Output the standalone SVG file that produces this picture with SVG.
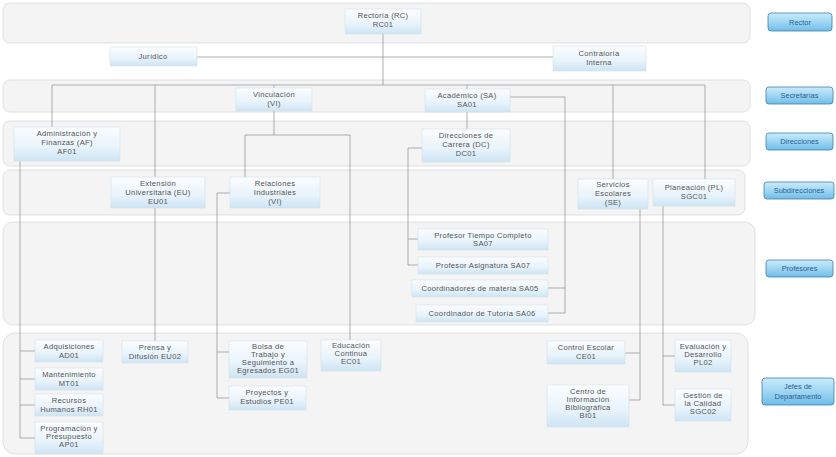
<svg xmlns="http://www.w3.org/2000/svg" width="836" height="457" viewBox="0 0 836 457">
<defs>
<linearGradient id="nodeG" x1="0" y1="0" x2="0" y2="1">
<stop offset="0" stop-color="#fbfdff"/>
<stop offset="0.6" stop-color="#e8f3fb"/>
<stop offset="1" stop-color="#cde4f4"/>
</linearGradient>
<linearGradient id="labG" x1="0" y1="0" x2="0" y2="1">
<stop offset="0" stop-color="#c9ecfb"/>
<stop offset="0.5" stop-color="#9fd6f3"/>
<stop offset="1" stop-color="#6fbde8"/>
</linearGradient>
<style>
.band{fill:#f4f4f4;stroke:#d9d9d9;stroke-width:0.8}
.node rect{fill:url(#nodeG);stroke:#d3e0ea;stroke-width:0.6}
.node text{font-family:"Liberation Sans",Arial,sans-serif;font-size:7.6px;fill:#555;text-anchor:middle;letter-spacing:0.3px}
.lab rect{fill:url(#labG);stroke:#3f7fae;stroke-width:0.8}
.lab text{font-family:"Liberation Sans",Arial,sans-serif;font-size:7.4px;fill:#2b5d96;text-anchor:middle}
.conn path{fill:none;stroke:#8c8c8c;stroke-width:0.7}
</style>
</defs>
<rect width="836" height="457" fill="#ffffff"/>
<g id="bands">
<rect class="band" x="3" y="3" width="747" height="40" rx="7"/>
<rect class="band" x="3" y="80" width="747" height="32" rx="7"/>
<rect class="band" x="3" y="121" width="747" height="45" rx="7"/>
<rect class="band" x="3" y="170" width="742" height="45" rx="7"/>
<rect class="band" x="3" y="222" width="752" height="103" rx="10"/>
<rect class="band" x="3" y="333" width="745" height="121" rx="12"/>
</g>
<g id="connectors" class="conn">
<path d="M383,34 V85"/>
<path d="M197,57 H553"/>
<path d="M52,85 H705"/>
<path d="M52,85 V127"/>
<path d="M155,85 V177 M155,208 V341"/>
<path d="M274,85 V88 M467,85 V89"/>
<path d="M613,85 V179 M705,85 V179"/>
<path d="M274,111 V135 M245,135 H350 M245,135 V177 M350,135 V340"/>
<path d="M467,112 V129"/>
<path d="M510,97 H565 V313 H548 M565,288 H548"/>
<path d="M422,148 H408 V265 H418 M408,239 H418"/>
<path d="M20,161 V438 H35 M20,351 H35 M20,379 H35 M20,405 H35"/>
<path d="M230,193 H217 V398 H229 M217,352 H229"/>
<path d="M640,209 V400 H629 M640,353 H625"/>
<path d="M663,206 V405 H675 M663,356 H675"/>
</g>
<g id="rc" class="node"><rect x="345" y="9" width="76" height="25"/><text x="383" y="18">Rectoría (RC)</text><text x="383" y="27">RC01</text></g>
<g id="ju" class="node"><rect x="110" y="47" width="87" height="19"/><text x="153" y="58.5">Jurídico</text></g>
<g id="ci" class="node"><rect x="553" y="46" width="93" height="25"/><text x="599" y="56">Contraloría</text><text x="599" y="65">Interna</text></g>
<g id="vi" class="node"><rect x="236" y="88" width="76" height="23"/><text x="274" y="97">Vinculación</text><text x="274" y="106">(VI)</text></g>
<g id="sa" class="node"><rect x="425" y="89" width="85" height="23"/><text x="467" y="98">Académico (SA)</text><text x="467" y="107">SA01</text></g>
<g id="af" class="node"><rect x="14" y="127" width="106" height="34"/><text x="67" y="136">Administración y</text><text x="67" y="145">Finanzas (AF)</text><text x="67" y="154">AF01</text></g>
<g id="dc" class="node"><rect x="422" y="129" width="88" height="33"/><text x="466" y="138">Direcciones de</text><text x="466" y="147">Carrera (DC)</text><text x="466" y="156">DC01</text></g>
<g id="eu" class="node"><rect x="111" y="177" width="94" height="31"/><text x="158" y="186">Extensión</text><text x="158" y="195">Universitaria (EU)</text><text x="158" y="204">EU01</text></g>
<g id="ri" class="node"><rect x="230" y="177" width="90" height="31"/><text x="275" y="186">Relaciones</text><text x="275" y="195">Industriales</text><text x="275" y="204">(VI)</text></g>
<g id="se" class="node"><rect x="578" y="179" width="70" height="30"/><text x="613" y="187">Servicios</text><text x="613" y="196">Escolares</text><text x="613" y="205">(SE)</text></g>
<g id="pl" class="node"><rect x="653" y="179" width="82" height="27"/><text x="694" y="190">Planeación (PL)</text><text x="694" y="199">SGC01</text></g>
<g id="ptc" class="node"><rect x="418" y="229" width="130" height="21"/><text x="483" y="237.5">Profesor Tiempo Completo</text><text x="483" y="246">SA07</text></g>
<g id="pa" class="node"><rect x="418" y="257" width="130" height="17"/><text x="483" y="268">Profesor Asignatura SA07</text></g>
<g id="cm" class="node"><rect x="412" y="280" width="136" height="17"/><text x="480" y="291">Coordinadores de materia SA05</text></g>
<g id="ct" class="node"><rect x="416" y="305" width="132" height="17"/><text x="482" y="316">Coordinador de Tutoría SA06</text></g>
<g id="ad" class="node"><rect x="35" y="340" width="68" height="22"/><text x="69" y="349">Adquisiciones</text><text x="69" y="358">AD01</text></g>
<g id="pd" class="node"><rect x="122" y="341" width="66" height="22"/><text x="155" y="350">Prensa y</text><text x="155" y="359">Difusión EU02</text></g>
<g id="bt" class="node"><rect x="229" y="341" width="78" height="37"/><text x="268" y="349">Bolsa de</text><text x="268" y="357">Trabajo y</text><text x="268" y="365">Seguimiento a</text><text x="268" y="373">Egresados EG01</text></g>
<g id="ec" class="node"><rect x="321" y="340" width="60" height="31"/><text x="351" y="348">Educación</text><text x="351" y="356">Continua</text><text x="351" y="364">EC01</text></g>
<g id="mt" class="node"><rect x="35" y="368" width="68" height="22"/><text x="69" y="377">Mantenimiento</text><text x="69" y="386">MT01</text></g>
<g id="rh" class="node"><rect x="35" y="394" width="68" height="22"/><text x="69" y="403">Recursos</text><text x="69" y="412">Humanos RH01</text></g>
<g id="ap" class="node"><rect x="35" y="422" width="68" height="32"/><text x="69" y="431">Programación y</text><text x="69" y="439">Presupuesto</text><text x="69" y="447">AP01</text></g>
<g id="pe" class="node"><rect x="229" y="386" width="77" height="24"/><text x="267" y="395">Proyectos y</text><text x="267" y="404">Estudios PE01</text></g>
<g id="ce" class="node"><rect x="547" y="341" width="78" height="23"/><text x="586" y="350">Control Escolar</text><text x="586" y="359">CE01</text></g>
<g id="bi" class="node"><rect x="547" y="385" width="82" height="42"/><text x="588" y="394">Centro de</text><text x="588" y="402">Información</text><text x="588" y="410">Bibliográfica</text><text x="588" y="418">BI01</text></g>
<g id="ed" class="node"><rect x="675" y="340" width="56" height="32"/><text x="703" y="349">Evaluación y</text><text x="703" y="357">Desarrollo</text><text x="703" y="365">PL02</text></g>
<g id="gc" class="node"><rect x="675" y="389" width="56" height="32"/><text x="703" y="398">Gestión de</text><text x="703" y="406">la Calidad</text><text x="703" y="414">SGC02</text></g>
<g id="lab-rector" class="lab"><rect x="768" y="13" width="64" height="18" rx="3"/><text x="800" y="24.5">Rector</text></g>
<g id="lab-sec" class="lab"><rect x="766" y="87" width="67" height="17" rx="3"/><text x="799.5" y="98">Secretarías</text></g>
<g id="lab-dir" class="lab"><rect x="766" y="133" width="67" height="17" rx="3"/><text x="799.5" y="144">Direcciones</text></g>
<g id="lab-sub" class="lab"><rect x="764" y="182" width="70" height="17" rx="3"/><text x="799" y="193">Subdirecciones</text></g>
<g id="lab-prof" class="lab"><rect x="766" y="260" width="67" height="17" rx="3"/><text x="799.5" y="271">Profesores</text></g>
<g id="lab-jefes" class="lab"><rect x="762" y="378" width="72" height="27" rx="3"/><text x="798" y="389">Jefes de</text><text x="798" y="399">Departamento</text></g>
</svg>
